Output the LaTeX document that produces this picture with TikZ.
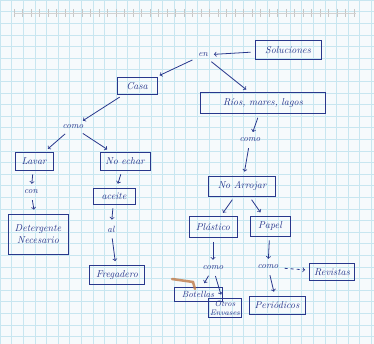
\documentclass[tikz,border=0pt]{standalone}
\usepackage{tikz}
\usepackage{amsmath}
\definecolor{ink}{RGB}{40,55,140}
\definecolor{paperline}{RGB}{200,230,240}
\definecolor{paper}{RGB}{246,250,252}
\definecolor{smudge}{RGB}{190,120,70}
\tikzset{
  concept/.style={draw=ink, line width=0.9pt, text=ink, font=\itshape, inner sep=3pt, align=center},
  linkword/.style={text=ink, font=\itshape\small, inner sep=2pt},
  link/.style={draw=ink, line width=0.8pt, ->, shorten >=4pt, shorten <=4pt},
}

\begin{document}
\begin{tikzpicture}[x=1pt,y=1pt,yscale=-1,xscale=1]
%set diagram size 374 x 344
\useasboundingbox (0,0) rectangle (374,344);
\fill[paper] (0,0) rectangle (374,344);

%Paper grid
\draw[paperline, line width=0.5pt, step=11.6] (0,0) grid (374,344);
%Perforated top edge
\foreach \i in {0,...,40} \draw[gray!45] (14+\i*8.5,9) -- (14+\i*8.5,17);
\draw[gray!35] (14,13) -- (356,13);

% Concept Nodes
\node[concept, minimum width=66, minimum height=19] (sol) at (288,50) {Soluciones};
\node[concept, minimum width=40, minimum height=17] (casa) at (137,86) {Casa};
\node[concept, minimum width=125, minimum height=21] (rios) at (263,103) {Ríos, mares, lagos};
\node[concept, minimum width=38, minimum height=18] (lavar) at (34,161) {Lavar};
\node[concept, minimum width=50, minimum height=18] (noechar) at (125,161) {No echar};
\node[concept, minimum width=60, minimum height=40] (deter) at (38,234) {Detergente\\Necesario};
\node[concept, minimum width=42, minimum height=16] (aceite) at (114,196) {aceite};
\node[concept, minimum width=55, minimum height=19] (freg) at (117,275) {Fregadero};
\node[concept, minimum width=67, minimum height=20] (noarr) at (242,186) {No Arrojar};
\node[concept, minimum width=48, minimum height=21] (plast) at (213,227) {Plástico};
\node[concept, minimum width=40, minimum height=20] (papel) at (270,226) {Papel};
\node[concept, minimum width=48, minimum height=14, font=\itshape\small] (botel) at (198,294) {Botellas};
\node[concept, font=\itshape\footnotesize, inner sep=1.5pt] (otros) at (225,308) {Otros\\Envases};
\node[concept, minimum width=56, minimum height=18] (period) at (277,305) {Periódicos};
\node[concept, minimum width=45, minimum height=17] (revis) at (332,272) {Revistas};

% Linking words
\node[linkword] (en) at (203,55) {en};
\node[linkword] (comoa) at (73,127) {como};
\node[linkword] (con) at (31,192) {con};
\node[linkword] (al) at (111,229) {al};
\node[linkword] (comob) at (250,140) {como};
\node[linkword] (comoc) at (213,268) {como};
\node[linkword] (comod) at (268,267) {como};

% Connectors
\draw[link] (sol) -- (en);
\draw[link] (en) -- (casa);
\draw[link] (en) -- (rios);
\draw[link] (casa) -- (comoa);
\draw[link] (comoa) -- (lavar);
\draw[link] (comoa) -- (noechar);
\draw[link] (lavar) -- (con);
\draw[link] (con) -- (deter);
\draw[link] (noechar) -- (aceite);
\draw[link] (aceite) -- (al);
\draw[link] (al) -- (freg);
\draw[link] (rios) -- (comob);
\draw[link] (comob) -- (noarr);
\draw[link] (noarr) -- (plast);
\draw[link] (noarr) -- (papel);
\draw[link] (plast) -- (comoc);
\draw[link] (papel) -- (comod);
\draw[link] (comoc) -- (botel);
\draw[link] (comoc) -- (otros);
\draw[link] (comod) -- (period);
\draw[link, dashed] (comod) -- (revis);

%Smudge near Botellas
\draw[smudge, line width=2.5pt, line cap=round, opacity=0.8] (172,279) -- (193,282) -- (195,289);

\end{tikzpicture}
\end{document}
